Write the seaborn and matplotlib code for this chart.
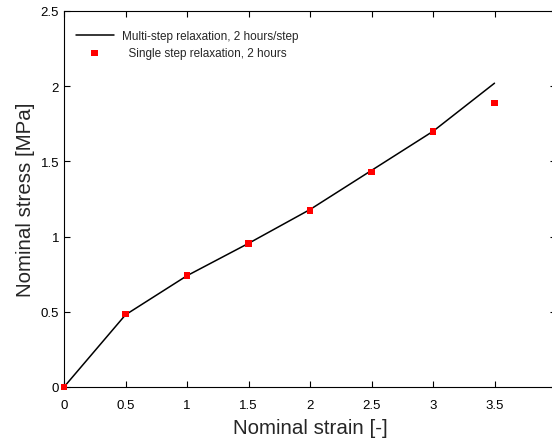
import matplotlib
matplotlib.use("Agg")
import matplotlib.pyplot as plt
import seaborn as sns
import pandas as pd

strain = [0, 0.5, 1.0, 1.5, 2.0, 2.5, 3.0, 3.5]
multi_step = [0, 0.48, 0.74, 0.955, 1.18, 1.44, 1.70, 2.02]
single_step = [0, 0.485, 0.742, 0.955, 1.175, 1.43, 1.70, 1.888]

df_line = pd.DataFrame({"strain": strain, "stress": multi_step})
df_pts = pd.DataFrame({"strain": strain, "stress": single_step})

sns.set_style("ticks")
plt.rcParams['font.family'] = ['Liberation Sans', 'DejaVu Sans']

fig = plt.figure(figsize=(5.52, 4.39), dpi=100)
ax = fig.add_axes([64/552, (439-388)/439, (556-64)/552, (388-12)/439])

sns.lineplot(data=df_line, x="strain", y="stress", color="black", lw=1.1,
             ax=ax, label="Multi-step relaxation, 2 hours/step")
sns.scatterplot(data=df_pts, x="strain", y="stress", color="red", marker="s",
                s=22, edgecolor="none", ax=ax, label="  Single step relaxation, 2 hours",
                zorder=3, clip_on=False)

ax.set_xlim(0, 4)
ax.set_ylim(0, 2.5)
ax.set_xticks([0, 0.5, 1, 1.5, 2, 2.5, 3, 3.5])
ax.set_xticklabels(["0", "0.5", "1", "1.5", "2", "2.5", "3", "3.5"])
ax.set_yticks([0, 0.5, 1, 1.5, 2, 2.5])
ax.set_yticklabels(["0", "0.5", "1", "1.5", "2", "2.5"])
ax.tick_params(direction="in", top=True, right=True, labelsize=9.5, length=4, width=0.8, colors="black")
ax.tick_params(axis="x", pad=9)
for s in ax.spines.values():
    s.set_linewidth(0.8)
    s.set_color("black")
ax.set_xlabel("Nominal strain [-]", fontsize=14.8)
ax.set_ylabel("Nominal stress [MPa]", fontsize=14.8)
ax.xaxis.labelpad = 5
ax.yaxis.labelpad = 4

leg = ax.legend(loc="upper left", frameon=False, fontsize=8.5, handlelength=3.2,
                handletextpad=0.7, borderaxespad=0.6, labelspacing=0.4,
                bbox_to_anchor=(0.0, 0.98))

fig.savefig("out.png", dpi=100)
